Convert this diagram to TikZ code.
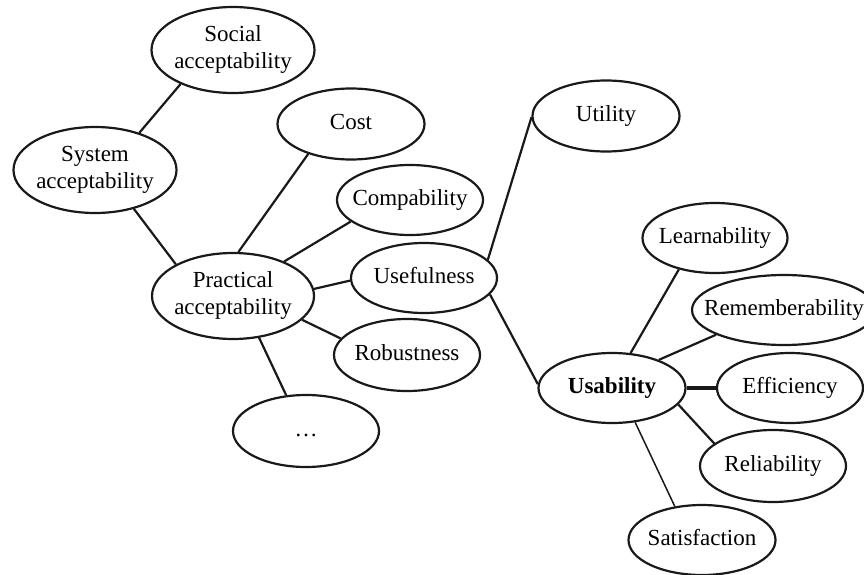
\documentclass[tikz,border=0pt]{standalone}
\usepackage{fontspec}
\setmainfont{Liberation Serif}
\usetikzlibrary{shapes.geometric}
\newcommand\eltext[1]{\makebox[0pt]{\begin{tabular}{@{}c@{}}#1\end{tabular}}}
\begin{document}
\begin{tikzpicture}[x=1pt,y=-1pt,
  el/.style={ellipse, draw=black!90, line width=2.2pt, inner sep=0pt,
    font=\fontsize{23}{27}\selectfont, minimum width=146pt, minimum height=70pt},
  big/.style={minimum width=163pt, minimum height=86pt},
  conn/.style={line width=2.2pt, draw=black!90},
  thickconn/.style={line width=3.5pt, draw=black!90},
  thinconn/.style={line width=1.5pt, draw=black!90}]
\useasboundingbox (0,0) rectangle (864,575);
% left part
\node[el, big] (social) at (233,50) {\eltext{Social\\acceptability}};
\node[el, big] (system) at (95,170) {\eltext{System\\acceptability}};
\node[el, big, minimum width=162pt] (prac) at (233,296) {\eltext{Practical\\acceptability}};
\node[el, minimum width=147pt, minimum height=71pt] (cost) at (351,124) {\eltext{Cost}};
\node[el] (comp) at (410,200) {\eltext{Compability}};
\node[el] (useful) at (424,278) {\eltext{Usefulness}};
\node[el, minimum height=72pt] (robust) at (407,355) {\eltext{Robustness}};
\node[el, minimum height=72pt] (dots) at (306,431) {\eltext{\ldots}};
% right part
\node[el, minimum width=147pt, minimum height=71pt] (utility) at (606,116) {\eltext{Utility}};
\node[el, minimum width=145pt] (learn) at (715,238) {\eltext{Learnability}};
\node[el, minimum width=184pt] (remem) at (784,310) {\eltext{Rememberability}};
\node[el, minimum width=147pt] (usab) at (612,388) {\eltext{\textbf{Usability}}};
\node[el] (eff) at (790,388) {\eltext{Efficiency}};
\node[el, minimum height=72pt] (rel) at (773,466) {\eltext{Reliability}};
\node[el, minimum width=147pt] (sat) at (702,540) {\eltext{Satisfaction}};
% connectors
\draw[conn] (social.-147.5) -- (system.40.7);
\draw[conn] (system.-45) -- (prac.151);
\draw[conn] (cost.215.8) -- (prac.83.4);
\draw[conn] (comp.200.4) -- (prac.34.2);
\draw[conn] (useful.182) -- (prac.5);
\draw[conn] (robust.166.6) -- (prac.-19.2);
\draw[conn] (dots.119.7) -- (prac.-58.2);
\draw[conn] (useful.16.5) -- (utility.181);
\draw[conn] (useful.-14.9) -- (usab.177.7);
\draw[conn] (learn.221.6) -- (usab.62.8);
\draw[conn] (remem.200) -- (usab.31.1);
\draw[thickconn] (usab.east) -- (eff.west);
\draw[conn] (rel.159) -- (usab.-14.7);
\draw[thinconn] (sat.129.3) -- (usab.-56.7);
\end{tikzpicture}
\end{document}
